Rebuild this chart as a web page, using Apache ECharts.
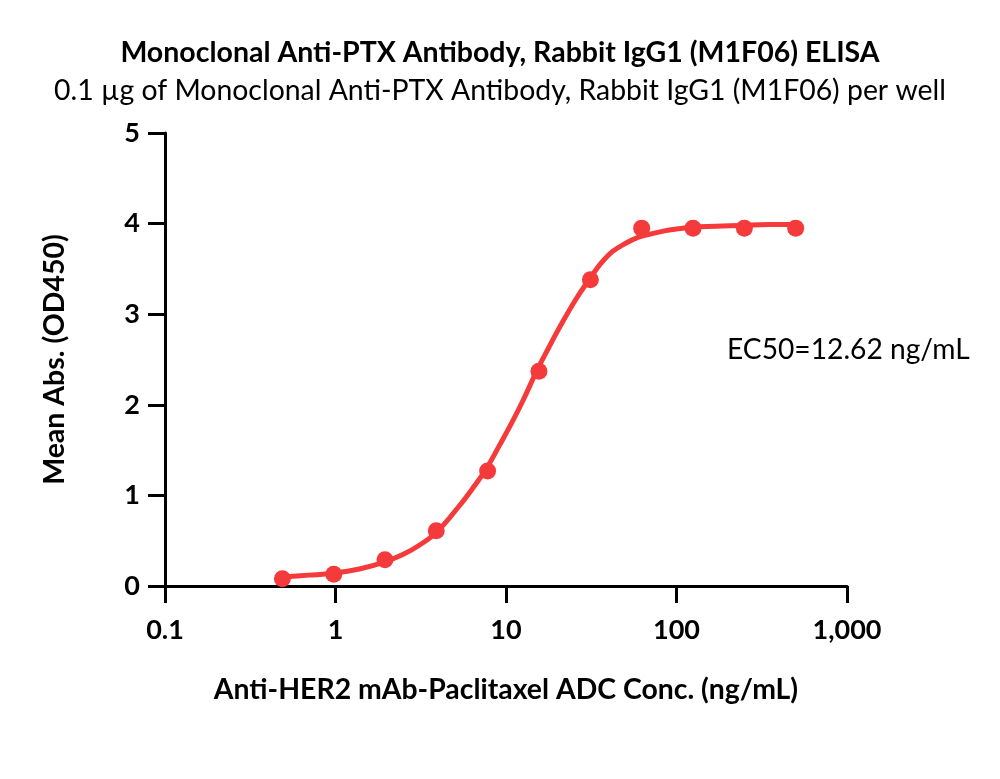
<!DOCTYPE html>
<html>
<head>
<meta charset="utf-8">
<title>ELISA</title>
<script src="https://cdn.jsdelivr.net/npm/echarts@6/dist/echarts.min.js"></script>
<style>
    html,body{margin:0;padding:0;background:#fff;}
    #chartMain{width:1000px;height:779px;}
</style>
</head>
<body>
<div id="chartMain"></div>
<script>
// 测量点 (浓度 ng/mL, OD450)
var pointConc = [0.488, 0.977, 1.95, 3.9, 7.8, 15.6, 31.25, 62.5, 125, 250, 500];
var pointOD = [0.08, 0.13, 0.29, 0.61, 1.27, 2.37, 3.38, 3.95, 3.95, 3.95, 3.95];
// 拟合曲线
var curveConc = [0.488, 0.7, 0.96, 1.4, 1.91, 2.5, 3.1, 3.9, 5.3, 6.5, 7.7, 9.2, 10.8, 12.6, 15.2, 17.8, 20.4, 25.6, 30.7, 36, 42, 50, 60, 72, 85, 100, 123, 170, 243, 350, 505];
var curveOD = [0.10, 0.12, 0.14, 0.19, 0.26, 0.35, 0.45, 0.59, 0.88, 1.10, 1.30, 1.56, 1.80, 2.05, 2.38, 2.63, 2.84, 3.16, 3.38, 3.56, 3.69, 3.78, 3.85, 3.89, 3.92, 3.94, 3.96, 3.97, 3.98, 3.99, 3.99];
var xTickLabels = {'0.1':'0.1','1':'1','10':'10','100':'100','1000':'1,000'};
var yTicks = [0, 1, 2, 3, 4, 5];

var red = '#f53a3c';
var fontName = 'Lato';

var pointData = [];
for(var i=0;i<pointConc.length;i++){
    pointData.push([pointConc[i], pointOD[i]]);
}
var curveData = [];
for(var i=0;i<curveConc.length;i++){
    curveData.push([curveConc[i], curveOD[i]]);
}

var myChart = echarts.init(document.getElementById('chartMain'));
var option = {
    backgroundColor:'#fff',
    animation:false,
    title:[{
        text:'Monoclonal Anti-PTX Antibody, Rabbit IgG1 (M1F06) ELISA',
        left:'center',
        top:33,
        textStyle:{fontFamily:fontName,fontWeight:'bold',fontSize:28.5,color:'#000'}
    },{
        text:'0.1 µg of Monoclonal Anti-PTX Antibody, Rabbit IgG1 (M1F06) per well',
        left:'center',
        top:72,
        textStyle:{fontFamily:fontName,fontWeight:'normal',fontSize:28.4,color:'#000'}
    }],
    graphic:[{
        type:'text',
        left:727,
        top:336,
        style:{text:'EC50=12.62 ng/mL',fontFamily:fontName,fontSize:28.2,fill:'#000'}
    }],
    grid:{left:165,right:153,top:133,bottom:193,containLabel:false},
    xAxis:{
        type:'log',
        logBase:10,
        min:0.1,
        max:1000,
        name:'Anti-HER2 mAb-Paclitaxel ADC Conc. (ng/mL)',
        nameLocation:'middle',
        nameGap:90,
        nameTextStyle:{fontFamily:fontName,fontWeight:'bold',fontSize:28.4,color:'#000'},
        axisLine:{lineStyle:{color:'#000',width:3}},
        axisTick:{length:17,lineStyle:{color:'#000',width:3}},
        minorTick:{show:false},
        splitLine:{show:false},
        axisLabel:{
            margin:31,
            fontFamily:fontName,fontWeight:'bold',fontSize:27,color:'#000',
            formatter:function(v){
                var k = String(Math.round(v*10)/10);
                return xTickLabels[k]!==undefined ? xTickLabels[k] : '';
            }
        }
    },
    yAxis:{
        type:'value',
        min:yTicks[0],
        max:yTicks[yTicks.length-1],
        interval:1,
        name:'Mean Abs. (OD450)',
        nameLocation:'middle',
        nameGap:96,
        nameTextStyle:{fontFamily:fontName,fontWeight:'bold',fontSize:28.5,color:'#000'},
        axisLine:{show:true,lineStyle:{color:'#000',width:3}},
        axisTick:{show:true,length:17,lineStyle:{color:'#000',width:3}},
        splitLine:{show:false},
        axisLabel:{margin:25,fontFamily:fontName,fontWeight:'bold',fontSize:27,color:'#000'}
    },
    series:[{
        type:'line',
        data:curveData,
        smooth:0.4,
        showSymbol:false,
        symbol:'none',
        lineStyle:{color:red,width:5,join:'round',cap:'round'},
        z:2
    },{
        type:'scatter',
        data:pointData,
        symbol:'circle',
        symbolSize:17,
        itemStyle:{color:red,opacity:1},
        z:3
    }]
};
myChart.setOption(option);
</script>
</body>
</html>
